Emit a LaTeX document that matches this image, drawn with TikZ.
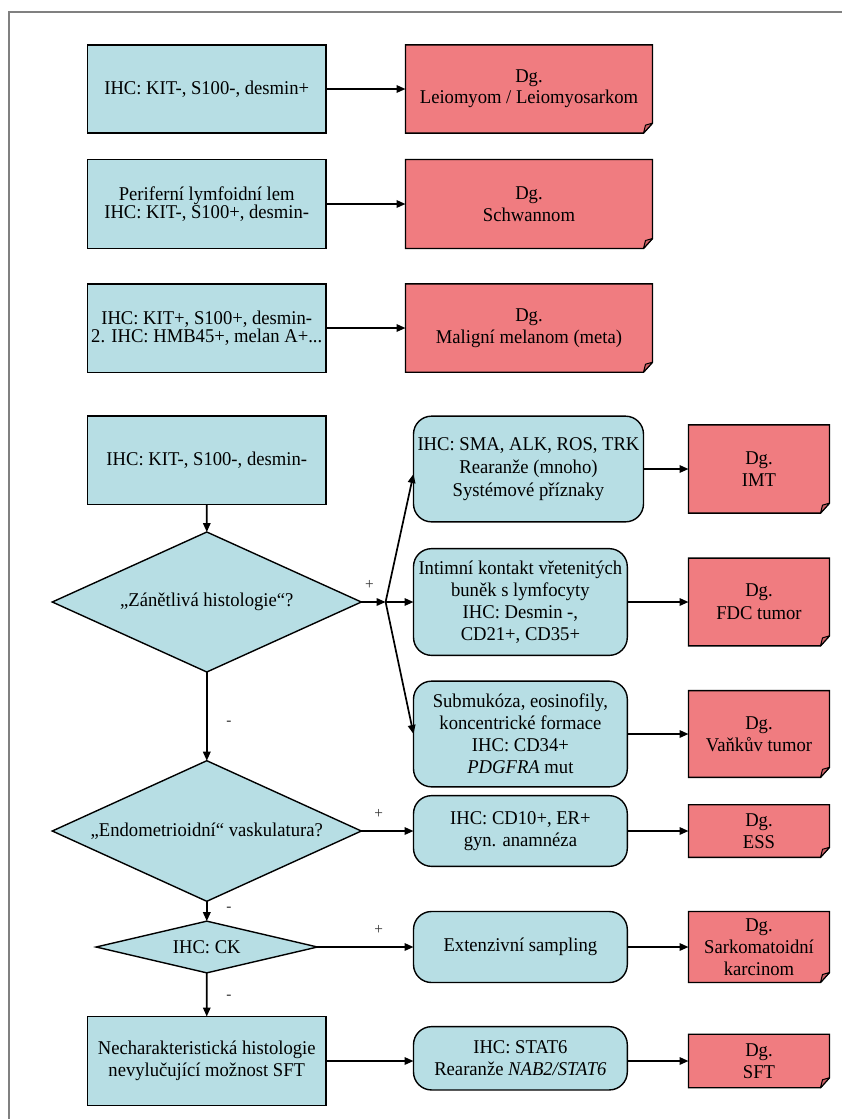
\documentclass[tikz,border=0pt]{standalone}
\usepackage{fontspec}
\setmainfont{Liberation Serif}[FakeStretch=0.955]
\usetikzlibrary{arrows.meta,shapes.geometric,calc,backgrounds}
\definecolor{boxblue}{RGB}{183,222,228}
\definecolor{boxred}{RGB}{240,124,128}
\definecolor{foldred}{RGB}{205,98,104}
\definecolor{framegray}{RGB}{128,128,128}
\lineskiplimit=-100pt
\lineskip=0pt
\newcommand\mkdg[7]{%
  \node[redtxt, minimum width=#4pt, minimum height=#5pt, font=\fontsize{19.5}{#7}\selectfont] (#1) at (#2,#3) {#6};
  \begin{scope}[on background layer]
    \draw[line width=1.4pt, fill=boxred, line join=miter]
      (#1.north west) -- (#1.north east) -- ($(#1.south east)+(0,-10)$)
      -- ($(#1.south east)+(-9,0)$) -- (#1.south west) -- cycle;
    \draw[line width=1pt, fill=foldred, line join=round]
      ($(#1.south east)+(0,-10)$) -- ($(#1.south east)+(-7,-8)$)
      -- ($(#1.south east)+(-9,0)$) -- cycle;
  \end{scope}}
\begin{document}
\begin{tikzpicture}[x=1pt,y=-1pt,
  every node/.style={inner sep=0pt, outer sep=0pt, align=center,
    font=\fontsize{19.5}{22}\selectfont},
  bluerect/.style={draw=black, fill=boxblue, line width=1.4pt, rectangle},
  bluernd/.style={draw=black, fill=boxblue, line width=1.4pt, rectangle, rounded corners=18pt},
  redtxt/.style={rectangle},
  decision/.style={draw=black, fill=boxblue, line width=1.4pt, diamond},
  arr/.style={line width=1.7pt, -{Triangle[length=9pt,width=7.5pt]}},
  lbl/.style={font=\fontsize{16}{16}\selectfont, text=black!80},
]
\useasboundingbox (0,0) rectangle (842,1119);
\draw[framegray, line width=2pt] (9,1125) -- (9,12) -- (850,12);

% top section
\node[bluerect, minimum width=238.5pt, minimum height=88.3pt] (b1) at (206.75,89) {IHC: KIT-, S100-, desmin+};
\mkdg{r1}{529}{89}{247}{88.3}{Dg.\\Leiomyom / Leiomyosarkom}{20.7}
\node[bluerect, minimum width=238.5pt, minimum height=89pt, font=\fontsize{19.5}{18.5}\selectfont] (b2) at (206.75,204) {Periferní lymfoidní lem\\IHC: KIT-, S100+, desmin-};
\mkdg{r2}{529}{204}{247}{89}{Dg.\\Schwannom}{21.7}
\node[bluerect, minimum width=238.5pt, minimum height=88.4pt, font=\fontsize{19.5}{18}\selectfont] (b3) at (206.75,328) {IHC: KIT+, S100+, desmin-\\2. IHC: HMB45+, melan A+...};
\mkdg{r3}{529}{328}{247}{88.4}{Dg.\\Maligní melanom (meta)}{21.7}

\draw[arr] (b1.east) -- (r1.west);
\draw[arr] (b2.east) -- (r2.west);
\draw[arr] (b3.east) -- (r3.west);

% main flow
\node[bluerect, minimum width=238.5pt, minimum height=88.3pt] (b4) at (206.75,460.2) {IHC: KIT-, S100-, desmin-};
\node[decision, minimum width=309pt, minimum height=140pt, aspect=2.2] (d1) at (206.8,602) {„Zánětlivá histologie“?};
\node[decision, minimum width=309pt, minimum height=140.6pt, aspect=2.2] (d2) at (206.8,831) {„Endometrioidní“ vaskulatura?};
\node[decision, minimum width=221.3pt, minimum height=51.7pt, aspect=4.28] (d3) at (206.8,947) {IHC: CK};
\node[bluerect, minimum width=238.5pt, minimum height=89pt] (nech) at (206.75,1061) {Necharakteristická histologie\\nevylučující možnost SFT};

\node[bluernd, minimum width=230pt, minimum height=105.7pt, font=\fontsize{19.5}{23}\selectfont] (imt) at (528.5,469) {IHC: SMA, ALK, ROS, TRK\\Rearanže (mnoho)\\Systémové příznaky};
\node[bluernd, minimum width=213.8pt, minimum height=106.7pt] (fdc) at (520.4,602) {Intimní kontakt vřetenitých\\buněk s lymfocyty\\IHC: Desmin -,\\CD21+, CD35+};
\node[bluernd, minimum width=213.8pt, minimum height=105.7pt] (van) at (520.4,734) {Submukóza, eosinofily,\\koncentrické formace\\IHC: CD34+\\\textit{PDGFRA} mut};
\node[bluernd, minimum width=213.8pt, minimum height=70.7pt] (ess) at (520.4,831) {IHC: CD10+, ER+\\gyn. anamnéza};
\node[bluernd, minimum width=213.8pt, minimum height=71pt] (ext) at (520.4,947) {Extenzivní sampling};
\node[bluernd, minimum width=213.8pt, minimum height=63.3pt] (stat) at (520.4,1058.3) {IHC: STAT6\\Rearanže \textit{NAB2/STAT6}};

\mkdg{rimt}{759}{469}{141}{88.3}{Dg.\\IMT}{22.7}
\mkdg{rfdc}{759}{602}{141}{87.7}{Dg.\\FDC tumor}{22.6}
\mkdg{rvan}{759}{734}{141}{86.7}{Dg.\\Vaňkův tumor}{21.7}
\mkdg{ress}{759}{831}{141}{52.6}{Dg.\\ESS}{22.3}
\mkdg{rsark}{759}{947}{141}{71}{Dg.\\Sarkomatoidní\\karcinom}{21.7}
\mkdg{rsft}{759}{1061}{141}{53.5}{Dg.\\SFT}{21.7}

\coordinate (J) at (385.6,602);

\draw[arr] (b4.south) -- (d1.north);
\draw[arr] (d1.south) -- (d2.north);
\draw[arr] (d2.south) -- (d3.north);
\draw[arr] (d3.south) -- (nech.north);

\draw[arr] (d1.east) -- (J);
\draw[arr] (J) -- (fdc.west);
\draw[arr] (J) -- ($(imt.west)+(0,5)$);
\draw[arr] (J) -- (van.west);
\draw[arr] (d2.east) -- (ess.west);
\draw[arr] (d3.east) -- (d3.east -| ext.west);
\draw[arr] (nech.east) -- (nech.east -| stat.west);

\draw[arr] (imt.east) -- (imt.east -| rimt.west);
\draw[arr] (fdc.east) -- (fdc.east -| rfdc.west);
\draw[arr] (van.east) -- (van.east -| rvan.west);
\draw[arr] (ess.east) -- (ess.east -| ress.west);
\draw[arr] (ext.east) -- (ext.east -| rsark.west);
\draw[arr] (stat.east |- rsft.west) -- (rsft.west);

\node[lbl] (p1) at (369.5,585) {+};
\node[lbl] (m1) at (229,723) {-};
\node[lbl] (p2) at (378.6,814.3) {+};
\node[lbl] (m2) at (229,909) {-};
\node[lbl] (p3) at (378.6,930) {+};
\node[lbl] (m3) at (229,997.3) {-};
\end{tikzpicture}
\end{document}
